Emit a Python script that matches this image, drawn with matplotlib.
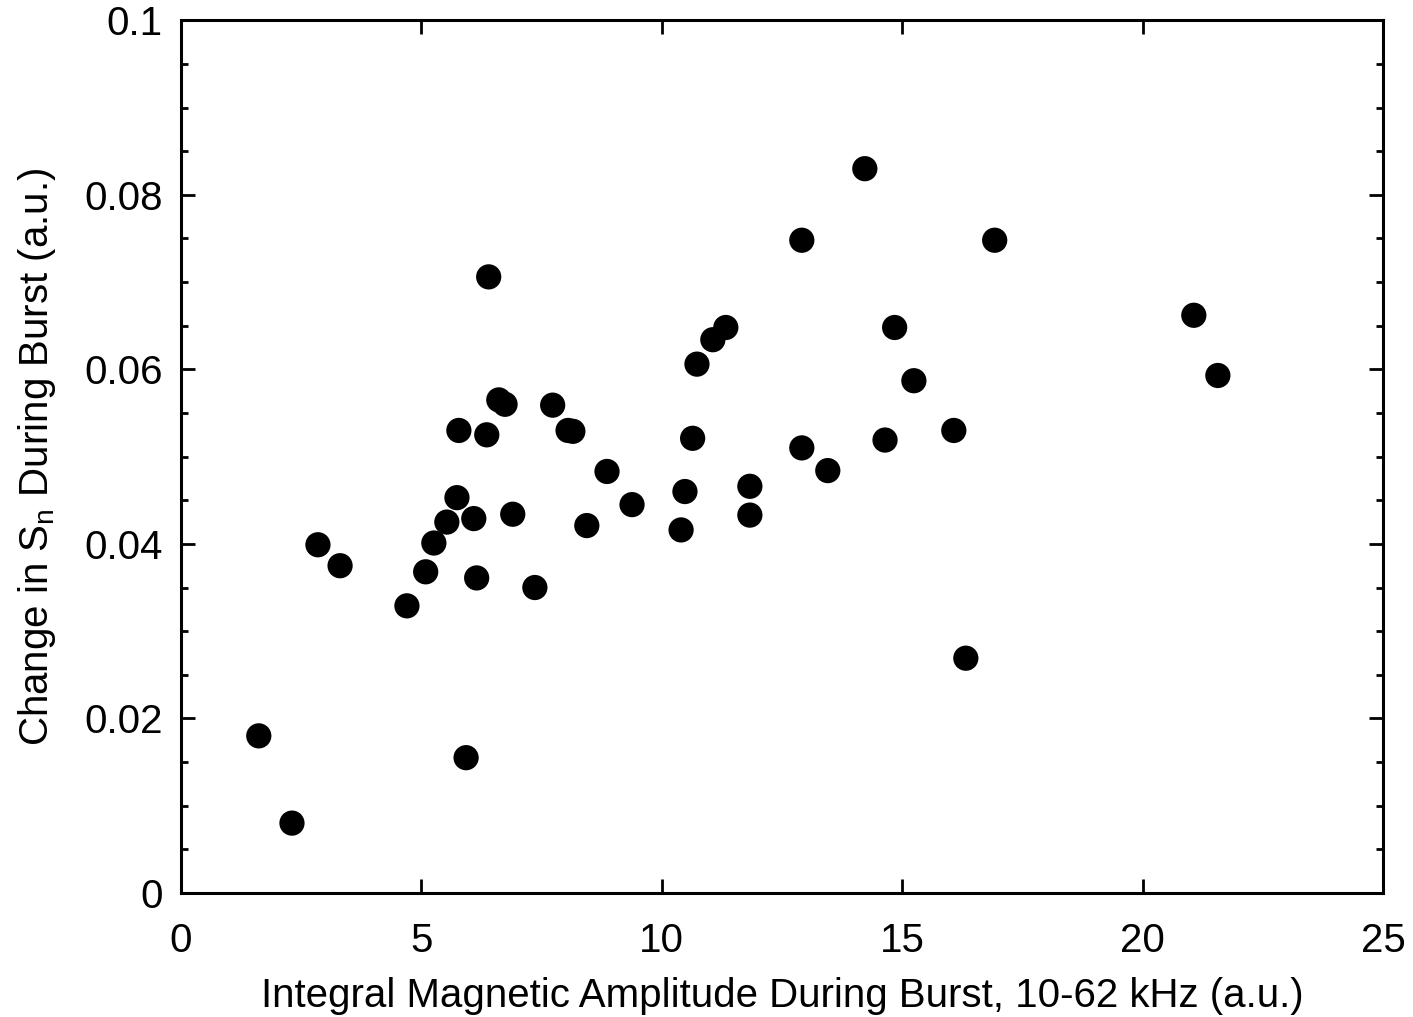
import matplotlib
matplotlib.use("Agg")
import matplotlib.pyplot as plt
from matplotlib.ticker import MultipleLocator, FormatStrFormatter

plt.rcParams["font.family"] = ["Liberation Sans", "DejaVu Sans"]
plt.rcParams["mathtext.fontset"] = "custom"
plt.rcParams["mathtext.rm"] = "Liberation Sans"

# data
amplitude = [1.62, 2.31, 2.85, 3.31, 4.70, 5.09, 5.26, 5.53, 5.74, 5.78,
             5.93, 6.09, 6.15, 6.36, 6.40, 6.61, 6.74, 6.90, 7.36, 7.73,
             8.05, 8.15, 8.44, 8.86, 9.38, 10.40, 10.48, 10.64, 10.73, 11.06,
             11.33, 11.83, 11.83, 12.91, 12.91, 13.45, 14.22, 14.64, 14.84, 15.24,
             16.07, 16.32, 16.92, 21.06, 21.56]
delta_sn = [0.0180, 0.0080, 0.0399, 0.0375, 0.0329, 0.0368, 0.0401, 0.0425, 0.0453, 0.0530,
            0.0155, 0.0429, 0.0361, 0.0525, 0.0706, 0.0565, 0.0560, 0.0434, 0.0350, 0.0559,
            0.0530, 0.0529, 0.0421, 0.0483, 0.0445, 0.0416, 0.0460, 0.0521, 0.0606, 0.0634,
            0.0648, 0.0466, 0.0433, 0.0748, 0.0510, 0.0484, 0.0830, 0.0519, 0.0648, 0.0587,
            0.0530, 0.0269, 0.0748, 0.0662, 0.0593]

fig, ax = plt.subplots(figsize=(14.13, 10.17), dpi=100)
fig.subplots_adjust(left=0.128, right=0.979, top=0.980, bottom=0.122)

ax.scatter(amplitude, delta_sn, s=330, c="black", edgecolors="none", zorder=3)

ax.set_xlim(0, 25)
ax.set_ylim(0, 0.1)
ax.xaxis.set_major_locator(MultipleLocator(5))
ax.yaxis.set_major_locator(MultipleLocator(0.02))
ax.yaxis.set_minor_locator(MultipleLocator(0.005))
ax.yaxis.set_major_formatter(FormatStrFormatter("%g"))

ax.tick_params(which="both", direction="in", top=True, right=True, width=2, labelsize=29)
ax.tick_params(which="major", length=10)
ax.tick_params(which="minor", length=5)
ax.tick_params(axis="x", which="major", pad=21)
ax.tick_params(axis="y", which="major", pad=13)
for sp in ax.spines.values():
    sp.set_linewidth(2.2)

ax.set_xlabel("Integral Magnetic Amplitude During Burst, 10-62 kHz (a.u.)", fontsize=29, labelpad=12)
ax.set_ylabel(r"Change in S$_\mathrm{n}$ During Burst (a.u.)", fontsize=29, labelpad=19)

fig.savefig("out.png", dpi=100)
